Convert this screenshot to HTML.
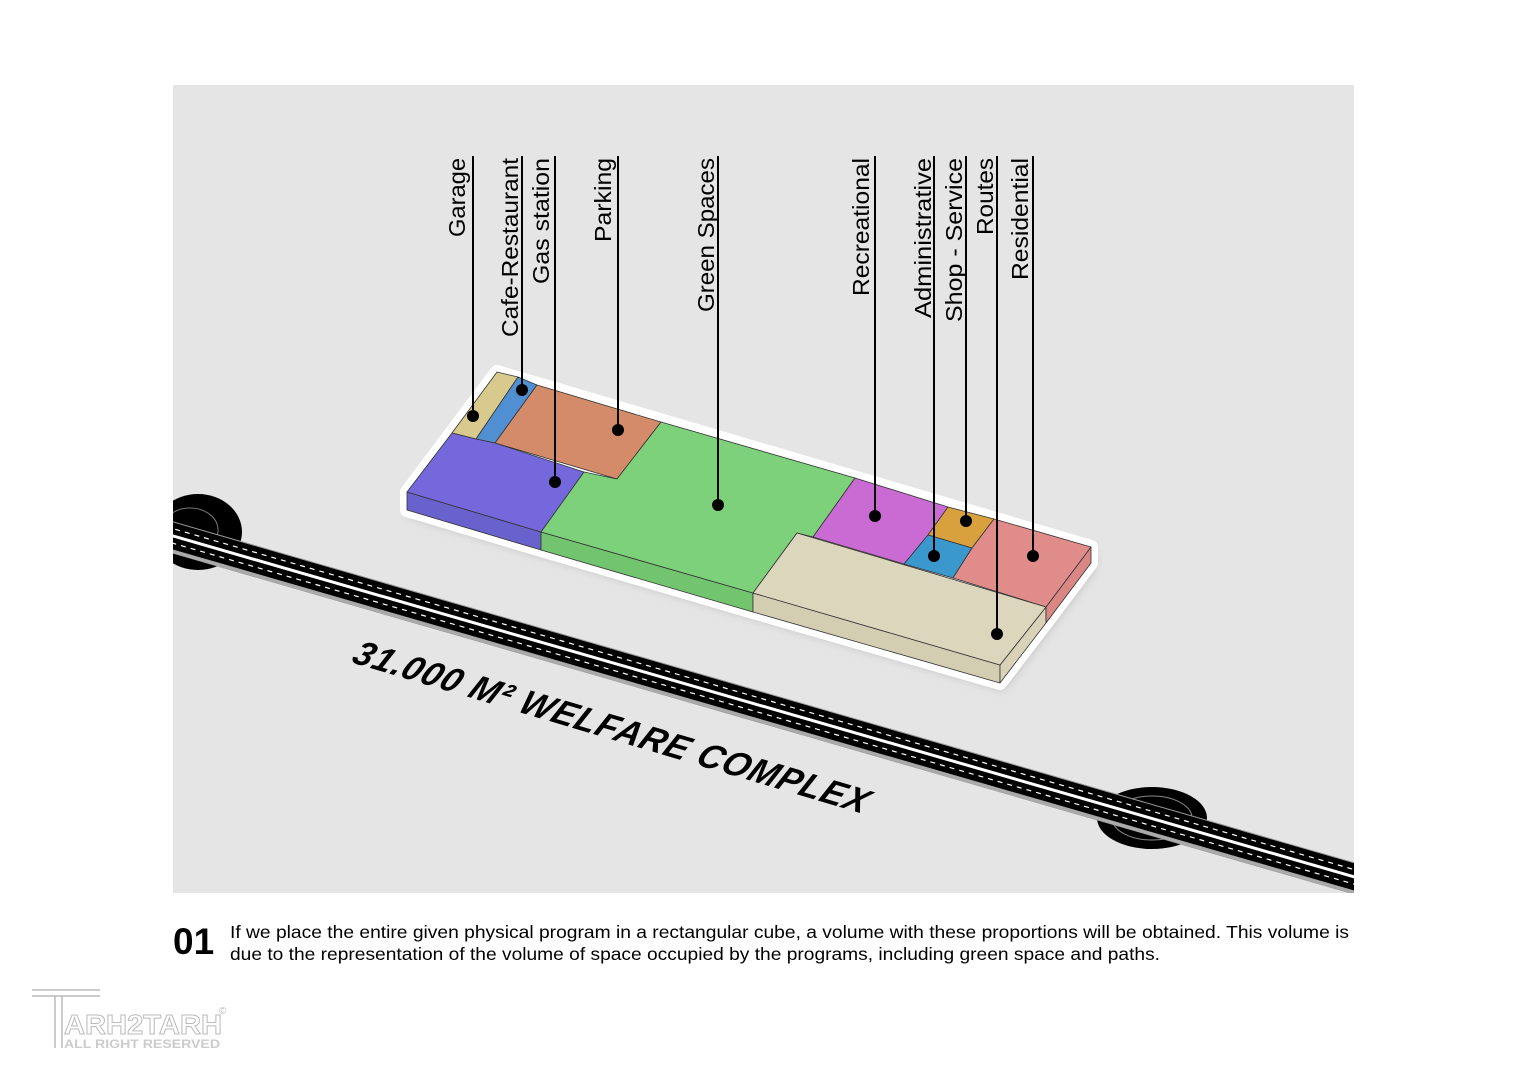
<!DOCTYPE html>
<html><head><meta charset="utf-8"><style>
html,body{margin:0;padding:0;background:#fff;width:1527px;height:1080px;overflow:hidden}
svg{display:block}
</style></head><body>
<svg width="1527" height="1080" viewBox="0 0 1527 1080" xmlns="http://www.w3.org/2000/svg" font-family="Liberation Sans, DejaVu Sans, sans-serif">
<defs>
<filter id="sh" x="-20%" y="-20%" width="140%" height="140%"><feGaussianBlur stdDeviation="5"/></filter>
<clipPath id="pc"><rect x="173" y="85" width="1181" height="808"/></clipPath>
</defs>
<rect width="1527" height="1080" fill="#fff"/>
<rect x="173" y="85" width="1181" height="808" fill="#e5e5e5"/>
<g clip-path="url(#pc)">
 <ellipse cx="198" cy="532" rx="44" ry="38" fill="#000"/>
 <ellipse cx="190" cy="530" rx="28" ry="22" fill="none" stroke="#777" stroke-width="1"/>
 <ellipse cx="1152" cy="818" rx="55" ry="31" fill="#000"/>
 <ellipse cx="1152" cy="818" rx="40" ry="22" fill="none" stroke="#888" stroke-width="1"/>
 <g transform="translate(173,537) rotate(16.1)">
  <rect x="-20" y="-15" width="1300" height="31" fill="#999"/>
  <rect x="-20" y="-14" width="1300" height="26" fill="#000"/>
  <line x1="-20" y1="-1" x2="1280" y2="-1" stroke="#fff" stroke-width="3"/>
  <line x1="-20" y1="-8" x2="1280" y2="-8" stroke="#fff" stroke-width="1.2" stroke-dasharray="5 5"/>
  <line x1="-20" y1="6" x2="1280" y2="6" stroke="#fff" stroke-width="1.2" stroke-dasharray="5 5"/>
  <line x1="-20" y1="14" x2="1280" y2="14" stroke="#aaa" stroke-width="3"/>
 </g>
</g>
<polygon points="497,372 1091,547 1091,563 1046,623 1000,683 753,612 541,550 407,510 407,492" fill="#888" opacity="0.5" filter="url(#sh)" transform="translate(3,6)"/>
<polygon points="497,372 1091,547 1091,563 1046,623 1000,683 753,612 541,550 407,510 407,492" fill="#fff" stroke="#fff" stroke-width="14" stroke-linejoin="round"/>
<g stroke="#333" stroke-width="0.8" stroke-linejoin="round">
 <polygon points="407,492 541,532 541,550 407,510" fill="#6a62cc"/>
 <polygon points="541,532 753,593 753,612 541,550" fill="#72c46f"/>
 <polygon points="753,593 1000,665 1000,683 753,612" fill="#d3ceb2"/>
 <polygon points="1000,665 1046,607 1046,623 1000,683" fill="#d8d3b8"/>
 <polygon points="1046,607 1091,547 1091,563 1046,623" fill="#d98684"/>
 <polygon points="497,372 518,377 476,439 452,433" fill="#d8c98c"/>
 <polygon points="518,377 537,385 495,443 476,439" fill="#4f8fd2"/>
 <polygon points="537,385 661,422 617,479 495,443" fill="#d48b6a"/>
 <polygon points="452,433 476,439 495,443 584,472 541,532 407,492" fill="#7468dc"/>
 <polygon points="661,422 855,478 813,537 797,533 753,593 541,532 584,472 617,479" fill="#7dd17a"/>
 <polygon points="855,478 948,507 928,535 904,564 813,537" fill="#c96bd3"/>
 <polygon points="948,507 994,519 972,548 928,535" fill="#d9a03e"/>
 <polygon points="928,535 972,548 953,578 904,564" fill="#3a98cc"/>
 <polygon points="994,519 1091,547 1046,607 953,578 972,548" fill="#e08c8a"/>
 <polygon points="797,533 1046,607 1000,665 753,593" fill="#dbd6bc"/>
</g>
<g stroke="#000" stroke-width="2">
 <line x1="473" y1="156" x2="473" y2="416"/>
 <line x1="522" y1="156" x2="522" y2="390"/>
 <line x1="555" y1="156" x2="555" y2="482"/>
 <line x1="618" y1="156" x2="618" y2="430"/>
 <line x1="718" y1="156" x2="718" y2="505"/>
 <line x1="875" y1="156" x2="875" y2="516"/>
 <line x1="934" y1="156" x2="934" y2="556"/>
 <line x1="966" y1="156" x2="966" y2="521"/>
 <line x1="997" y1="156" x2="997" y2="634"/>
 <line x1="1033" y1="156" x2="1033" y2="556"/>
</g>
<g fill="#000">
 <circle cx="473" cy="416" r="6"/><circle cx="522" cy="390" r="6"/><circle cx="555" cy="482" r="6"/>
 <circle cx="618" cy="430" r="6"/><circle cx="718" cy="505" r="6"/><circle cx="875" cy="516" r="6"/>
 <circle cx="934" cy="556" r="6"/><circle cx="966" cy="521" r="6"/><circle cx="997" cy="634" r="6"/>
 <circle cx="1033" cy="556" r="6"/>
</g>
<g font-size="23" fill="#000" text-anchor="end">
 <text transform="translate(465,158) rotate(-90)" textLength="79" lengthAdjust="spacingAndGlyphs">Garage</text>
 <text transform="translate(518,158) rotate(-90)" textLength="179" lengthAdjust="spacingAndGlyphs">Cafe-Restaurant</text>
 <text transform="translate(549,158) rotate(-90)" textLength="126" lengthAdjust="spacingAndGlyphs">Gas station</text>
 <text transform="translate(611,158) rotate(-90)" textLength="84" lengthAdjust="spacingAndGlyphs">Parking</text>
 <text transform="translate(714,158) rotate(-90)" textLength="154" lengthAdjust="spacingAndGlyphs">Green Spaces</text>
 <text transform="translate(869,158) rotate(-90)" textLength="138" lengthAdjust="spacingAndGlyphs">Recreational</text>
 <text transform="translate(931,158) rotate(-90)" textLength="160" lengthAdjust="spacingAndGlyphs">Administrative</text>
 <text transform="translate(962,158) rotate(-90)" textLength="164" lengthAdjust="spacingAndGlyphs">Shop - Service</text>
 <text transform="translate(993,158) rotate(-90)" textLength="77" lengthAdjust="spacingAndGlyphs">Routes</text>
 <text transform="translate(1028,158) rotate(-90)" textLength="122" lengthAdjust="spacingAndGlyphs">Residential</text>
</g>
<text transform="translate(350,662) rotate(16.5) skewX(-12)" font-size="35" font-weight="bold" font-style="italic" letter-spacing="1" fill="#000" textLength="535" lengthAdjust="spacingAndGlyphs">31.000 M² WELFARE COMPLEX</text>
<text x="173" y="954" font-size="37" font-weight="bold" fill="#000">01</text>
<text x="230" y="938" font-size="17.5" fill="#000" textLength="1119" lengthAdjust="spacingAndGlyphs">If we place the entire given physical program in a rectangular cube, a volume with these proportions will be obtained. This volume is</text>
<text x="230" y="960" font-size="17.5" fill="#000" textLength="930" lengthAdjust="spacingAndGlyphs">due to the representation of the volume of space occupied by the programs, including green space and paths.</text>
<g fill="none" stroke="#bbb" stroke-width="1.5">
 <path d="M32,990 H100 M32,996 H100 M55,996 V1048 M62,996 V1048"/>
</g>
<text x="64" y="1034" font-size="28" font-weight="bold" fill="none" stroke="#bbb" stroke-width="1" textLength="158" lengthAdjust="spacingAndGlyphs">ARH2TARH</text>
<text x="64" y="1048" font-size="12" font-weight="bold" fill="#ccc" textLength="156" lengthAdjust="spacingAndGlyphs">ALL RIGHT RESERVED</text>
<text x="219" y="1014" font-size="10" fill="#bbb">©</text>
</svg>
</body></html>
